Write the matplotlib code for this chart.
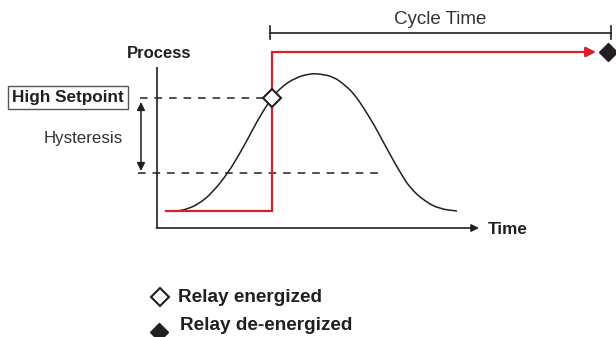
import matplotlib.pyplot as plt
from matplotlib.path import Path
from matplotlib.patches import PathPatch

plt.rcParams['font.family'] = ['Liberation Sans', 'DejaVu Sans']

INK = '#231f20'
RED = '#d7202a'

# process curve (drawing units: x grows right, y grows down)
time = [175, 188, 200, 212, 228, 240, 248, 260, 272, 282, 295, 310, 320,
        333, 345, 355, 365, 375, 383, 392, 400, 410, 425, 440, 457]
process = [211.5, 209, 203, 193, 173, 153, 138.5, 116, 97.5, 86.5, 78, 73.5, 74,
           76.5, 85, 95, 110, 126.5, 141.5, 158, 172, 188, 201.5, 209, 211]

high_setpoint = 97.5
low_setpoint = 173
relay_off_level = 211
relay_on_level = 52
relay_start = 166
relay_switch = 272
relay_end = 596
cycle_start = 270
cycle_end = 611


def smooth_path(xs, ys):
    # quadratic segments through the midpoints, sample points as controls
    pts = list(zip(xs, ys))
    verts = [pts[0]]
    codes = [Path.MOVETO]
    mid = ((pts[0][0] + pts[1][0]) / 2, (pts[0][1] + pts[1][1]) / 2)
    verts.append(mid)
    codes.append(Path.LINETO)
    for i in range(1, len(pts) - 1):
        nxt = ((pts[i][0] + pts[i + 1][0]) / 2, (pts[i][1] + pts[i + 1][1]) / 2)
        verts += [pts[i], nxt]
        codes += [Path.CURVE3, Path.CURVE3]
    verts.append(pts[-1])
    codes.append(Path.LINETO)
    return Path(verts, codes)


fig = plt.figure(figsize=(6.16, 3.37), dpi=100)
ax = fig.add_axes([0, 0, 1, 1])
ax.set_xlim(0, 616)
ax.set_ylim(337, 0)
ax.axis('off')

# axes of the diagram
ax.plot([157, 157], [67, 228], color=INK, lw=1.2, solid_capstyle='butt')
ax.annotate('', xy=(479, 228), xytext=(156.4, 228),
            arrowprops=dict(arrowstyle='-|>', color=INK, lw=1.2,
                            mutation_scale=11, shrinkA=0, shrinkB=0))
ax.text(159, 54, 'Process', fontsize=12, fontweight='bold', color=INK,
        ha='center', va='center')
ax.text(488, 229, 'Time', fontsize=12.3, fontweight='bold', color=INK,
        ha='left', va='center')

# setpoint lines
ax.plot([140, 265], [high_setpoint, high_setpoint], color=INK, lw=1.1,
        dashes=(5, 4.5))
ax.plot([138, 378], [low_setpoint, low_setpoint], color=INK, lw=1.1,
        dashes=(5, 4.5))
ax.annotate('', xy=(141, 102), xytext=(141, 171),
            arrowprops=dict(arrowstyle='<|-|>', color=INK, lw=1.1,
                            mutation_scale=12, shrinkA=0, shrinkB=0))
ax.text(83, 138, 'Hysteresis', fontsize=12.2, color='#333333',
        ha='center', va='center')
ax.text(68, 97.5, 'High Setpoint', fontsize=12.3, fontweight='bold',
        color=INK, ha='center', va='center',
        bbox=dict(boxstyle='square,pad=0.22', fc='white', ec='#555555', lw=1))

# process value
ax.add_patch(PathPatch(smooth_path(time, process), fc='none', ec=INK,
                       lw=1.1))

# relay output
ax.plot([relay_start, relay_switch, relay_switch, relay_end - 8],
        [relay_off_level, relay_off_level, relay_on_level, relay_on_level],
        color=RED, lw=1.6, solid_joinstyle='miter')
ax.annotate('', xy=(relay_end, relay_on_level),
            xytext=(relay_end - 12, relay_on_level),
            arrowprops=dict(arrowstyle='-|>', color=RED, lw=1.6,
                            mutation_scale=15, shrinkA=0, shrinkB=0))

# cycle time bracket
ax.plot([cycle_start, cycle_end], [33, 33], color=INK, lw=1.2)
ax.plot([cycle_start, cycle_start], [26, 39], color=INK, lw=1.2)
ax.plot([cycle_end, cycle_end], [26, 39], color=INK, lw=1.2)
ax.text(440, 19, 'Cycle Time', fontsize=13.5, color='#333333',
        ha='center', va='center')

# relay state markers
ax.plot([relay_switch], [high_setpoint], marker='D', ms=9.5, mfc='white',
        mec=INK, mew=1.5, zorder=5)
ax.plot([608], [relay_on_level], marker='D', ms=9.5, mfc=INK, mec=INK,
        zorder=5)

# key
ax.plot([159.5], [297], marker='D', ms=9, mfc='white', mec=INK, mew=1.5)
ax.text(178, 297, 'Relay energized', fontsize=13.7, fontweight='bold',
        color=INK, ha='left', va='center')
ax.plot([159], [332], marker='D', ms=9, mfc=INK, mec=INK)
ax.text(180, 326, 'Relay de-energized', fontsize=13.7, fontweight='bold',
        color=INK, ha='left', va='center')

fig.savefig('out.png', dpi=100)
